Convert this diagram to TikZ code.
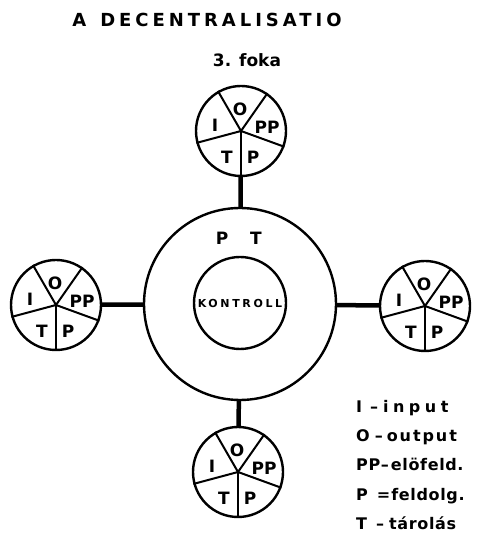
\documentclass[tikz,border=0pt]{standalone}
\usepackage{fontspec}
\setmainfont{DejaVu Sans}
\newfontfamily\titlefont[LetterSpace=22]{DejaVu Sans}
\newfontfamily\keyfont[LetterSpace=4]{DejaVu Sans}
\newfontfamily\widefont[LetterSpace=24]{DejaVu Sans}
\usepackage{tikz}
\usetikzlibrary{positioning}
\tikzstyle{pie} = [circle, draw=black, line width=2.4pt, minimum size=90pt, inner sep=0pt]
\tikzstyle{spoke} = [line width=4.5pt]

\begin{document}
\begin{tikzpicture}[
    x=1pt, y=1pt,
    divider/.style={line width=2pt},
    part/.style={
        font=\bfseries\fontsize{17}{17}\selectfont,
        inner sep=0pt
    },
    key/.style={
        anchor=north west,
        inner sep=0pt,
        text height=13pt,
        text depth=4pt,
        font=\keyfont\bfseries\fontsize{16}{16}\selectfont
    }
]
    \useasboundingbox (0,0) rectangle (477,552);

    \node[font=\titlefont\bfseries\fontsize{18}{18}\selectfont] (title)
        at (207,532) {A\hspace{14pt}DECENTRALISATIO};
    \node[font=\bfseries\fontsize{17}{17}\selectfont] (degree)
        at (247,492) {3. foka};

    \node[pie, minimum size=192pt] (ring) at (240,248) {};
    \node[pie, minimum size=92pt,
        font=\widefont\bfseries\fontsize{11}{11}\selectfont]
        (kontroll) at (240,249) {KONTROLL};
    \node[part] (ringP) at (222,314) {P};
    \node[part] (ringT) at (256,314) {T};

    \foreach \name/\x/\y in {pieN/241/421, pieW/56/247, pieE/425/246, pieS/238/80} {
        \node[pie] (\name) at (\x,\y) {};
        \foreach \a in {120,55,-20,195,270}
            \draw[divider] (\name.center) -- (\name.\a);
        \node[part] (\name-I) at ([shift={(-26,6)}]\name.center) {I};
        \node[part] (\name-O) at ([shift={(-1,22)}]\name.center) {O};
        \node[part] (\name-PP) at ([shift={(26,4)}]\name.center) {PP};
        \node[part] (\name-T) at ([shift={(-14,-26)}]\name.center) {T};
        \node[part] (\name-P) at ([shift={(12,-26)}]\name.center) {P};
        \draw[spoke] (ring) -- (\name);
    }

    \node[key] (keyI) at (356,153)
        {I\hspace{8pt}–\hspace{5pt}{\addfontfeature{LetterSpace=28}input}};
    \node[below=12pt of keyI.south west, key] (keyO)
        {O\hspace{5pt}–\hspace{4pt}{\addfontfeature{LetterSpace=12}output}};
    \node[below=12pt of keyO.south west, key] (keyPP) {PP–\hspace{2pt}elöfeld.};
    \node[below=12pt of keyPP.south west, key] (keyP) {P\hspace{9pt}=\hspace{1pt}feldolg.};
    \node[below=12pt of keyP.south west, key] (keyT) {T\hspace{9pt}–\hspace{5pt}tárolás};
\end{tikzpicture}
\end{document}
